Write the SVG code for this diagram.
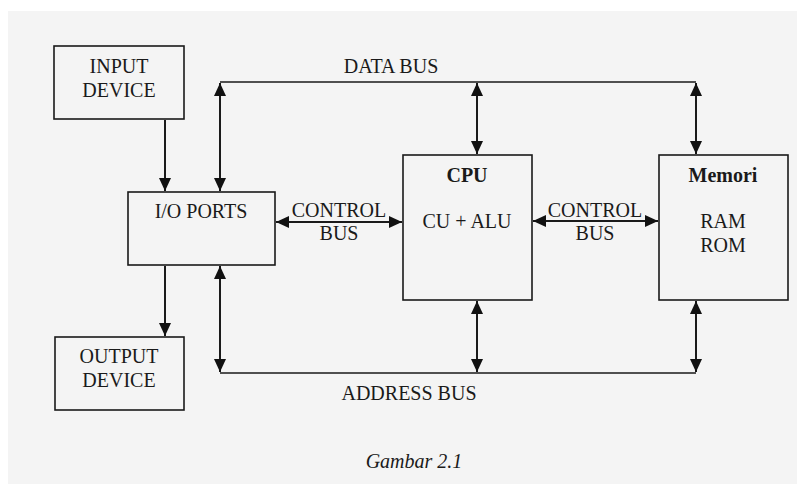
<svg xmlns="http://www.w3.org/2000/svg" width="797" height="484" viewBox="0 0 797 484">
  <style>
    .box { fill: #f4f4f4; stroke: #1a1a1a; stroke-width: 1.6; }
    .lbl { font-family: "Liberation Serif", "Times New Roman", serif; font-size: 20px; fill: #1a1a1a; text-anchor: middle; }
    .bold { font-weight: bold; }
    .cap { font-style: italic; }
    .bus { fill: none; stroke: #1a1a1a; stroke-width: 1.6; }
    .arr { fill: none; stroke: #1a1a1a; stroke-width: 2; }
  </style>
  <defs>
    <marker id="head" markerUnits="userSpaceOnUse" markerWidth="14" markerHeight="12" refX="13" refY="6" orient="auto-start-reverse">
      <path d="M0,0 L13,6 L0,12 Z" fill="#111"/>
    </marker>
  </defs>

  <!-- page -->
  <rect x="0" y="0" width="797" height="484" fill="#ffffff"/>
  <rect x="8" y="11" width="789" height="473" fill="#f4f4f4"/>

  <!-- connectors -->
  <g id="connectors">
    <!-- data bus -->
    <path class="bus" d="M220,82 H696"/>
    <line class="arr" x1="220" y1="83" x2="220" y2="191" marker-start="url(#head)" marker-end="url(#head)"/>
    <line class="arr" x1="477" y1="83" x2="477" y2="154" marker-start="url(#head)" marker-end="url(#head)"/>
    <line class="arr" x1="696" y1="83" x2="696" y2="154" marker-start="url(#head)" marker-end="url(#head)"/>
    <!-- address bus -->
    <path class="bus" d="M220,373 H696"/>
    <line class="arr" x1="220" y1="266" x2="220" y2="372" marker-start="url(#head)" marker-end="url(#head)"/>
    <line class="arr" x1="477" y1="301" x2="477" y2="372" marker-start="url(#head)" marker-end="url(#head)"/>
    <line class="arr" x1="696" y1="301" x2="696" y2="372" marker-start="url(#head)" marker-end="url(#head)"/>
    <!-- control buses -->
    <line class="arr" x1="276" y1="222" x2="402" y2="222" marker-start="url(#head)" marker-end="url(#head)"/>
    <line class="arr" x1="533" y1="221" x2="658" y2="221" marker-start="url(#head)" marker-end="url(#head)"/>
    <!-- device links -->
    <line class="arr" x1="165" y1="120" x2="165" y2="191" marker-end="url(#head)"/>
    <line class="arr" x1="165" y1="266" x2="165" y2="336" marker-end="url(#head)"/>
    <!-- bus labels -->
    <text class="lbl" x="391" y="73">DATA BUS</text>
    <text class="lbl" x="409" y="400">ADDRESS BUS</text>
    <text class="lbl" x="339" y="217">CONTROL</text>
    <text class="lbl" x="339" y="240">BUS</text>
    <text class="lbl" x="595" y="217">CONTROL</text>
    <text class="lbl" x="595" y="240">BUS</text>
  </g>

  <g id="input-device">
    <rect class="box" x="54" y="46" width="130" height="73"/>
    <text class="lbl" x="119" y="73">INPUT</text>
    <text class="lbl" x="119" y="97">DEVICE</text>
  </g>

  <g id="io-ports">
    <rect class="box" x="128" y="192" width="147" height="73"/>
    <text class="lbl" x="201" y="218">I/O PORTS</text>
  </g>

  <g id="output-device">
    <rect class="box" x="55" y="337" width="129" height="73"/>
    <text class="lbl" x="119" y="363">OUTPUT</text>
    <text class="lbl" x="119" y="387">DEVICE</text>
  </g>

  <g id="cpu">
    <rect class="box" x="403" y="155" width="129" height="145"/>
    <text class="lbl bold" x="467" y="182">CPU</text>
    <text class="lbl" x="467" y="228">CU + ALU</text>
  </g>

  <g id="memori">
    <rect class="box" x="659" y="155" width="129" height="145"/>
    <text class="lbl bold" x="723" y="182">Memori</text>
    <text class="lbl" x="723" y="228">RAM</text>
    <text class="lbl" x="723" y="252">ROM</text>
  </g>

  <text class="lbl cap" x="414" y="468">Gambar 2.1</text>
</svg>
